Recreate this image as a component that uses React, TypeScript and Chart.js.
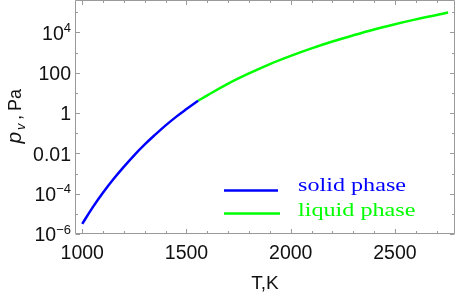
import React, { useEffect, useRef } from "react";
import { Chart, registerables } from "chart.js";

Chart.register(...registerables);

// Temperatures (K) and vapour pressures (Pa)
const solidT = [1000, 1050, 1100, 1150, 1200, 1250, 1300, 1350, 1400, 1450, 1500, 1556];
const solidP = [3.2e-6, 2.1e-5, 1.15e-4, 5.4e-4, 2.2e-3, 8.3e-3, 0.028, 0.085, 0.245, 0.65, 1.58, 4.1];
const liquidT = [1556, 1600, 1700, 1800, 1900, 2000, 2100, 2200, 2300, 2400, 2500, 2600, 2700, 2755];
const liquidP = [4.1, 7.6, 29, 93, 270, 690, 1620, 3550, 7240, 14100, 25700, 44700, 74100, 97700];

const seriesNames = ["solid phase", "liquid phase"];
const seriesColors = ["#0000ff", "#00ff00"];

const xMajorTicks = [1000, 1500, 2000, 2500];
const xMajorLabels = ["1000", "1500", "2000", "2500"];
const xMinorTicks = [1100, 1200, 1300, 1400, 1600, 1700, 1800, 1900, 2100, 2200, 2300, 2400, 2600, 2700];
const yMajorTicks = [1e-6, 1e-4, 0.01, 1, 100, 1e4];
const yMajorBase = ["10", "10", "0.01", "1", "100", "10"];
const yMajorSup = ["\u22126", "\u22124", "", "", "", "4"];
const yMinorTicks = [1e-5, 1e-3, 0.1, 10, 1000, 1e5];
const xTitle = "T,K";
const yTitleVar = "p";
const yTitleSub = "v";
const yTitleUnit = "Pa";

const xMin = 970;
const xMax = 2788;
const yMin = 1e-6;
const yMax = 4.1e5;

const SANS = '"Liberation Sans", Arial, sans-serif';
const SERIF = '"Liberation Serif", "Times New Roman", serif';

const decorPlugin = {
  id: "decor",
  afterDraw(chart: any) {
    const { ctx, chartArea, scales } = chart;
    const { left, right, top, bottom } = chartArea;
    const xs = scales.x;
    const ys = scales.y;
    ctx.save();
    // frame
    ctx.strokeStyle = "#9a9a9a";
    ctx.lineWidth = 1;
    const L = Math.round(left) - 0.5;
    const R = Math.round(right) - 0.5;
    const T = Math.round(top) + 0.5;
    const B = Math.round(bottom) - 0.5;
    ctx.beginPath();
    ctx.moveTo(L, T);
    ctx.lineTo(R, T);
    ctx.lineTo(R, B);
    ctx.lineTo(L, B);
    ctx.closePath();
    ctx.stroke();
    // ticks
    const majorLen = 4.5;
    const minorLen = 2.5;
    ctx.beginPath();
    const xt = (v: number, len: number) => {
      const px = Math.round(xs.getPixelForValue(v)) + 0.5;
      ctx.moveTo(px, B);
      ctx.lineTo(px, B - len);
      ctx.moveTo(px, T);
      ctx.lineTo(px, T + len);
    };
    const yt = (v: number, len: number) => {
      const py = Math.round(ys.getPixelForValue(v)) + 0.5;
      ctx.moveTo(L, py);
      ctx.lineTo(L + len, py);
      ctx.moveTo(R, py);
      ctx.lineTo(R - len, py);
    };
    xMajorTicks.forEach((v) => xt(v, majorLen));
    xMinorTicks.forEach((v) => xt(v, minorLen));
    yMajorTicks.forEach((v) => yt(v, majorLen));
    yMinorTicks.forEach((v) => yt(v, minorLen));
    ctx.stroke();

    // x tick labels
    ctx.fillStyle = "#111";
    ctx.font = `19.5px ${SANS}`;
    ctx.textAlign = "center";
    ctx.textBaseline = "alphabetic";
    xMajorTicks.forEach((v, i) => {
      ctx.fillText(xMajorLabels[i], xs.getPixelForValue(v), 259);
    });
    // y tick labels
    const labelRight = 71;
    yMajorTicks.forEach((v, i) => {
      const py = ys.getPixelForValue(v);
      const base = py + 7.2;
      let xr = labelRight;
      ctx.textAlign = "right";
      if (yMajorSup[i]) {
        ctx.font = `13px ${SANS}`;
        ctx.fillText(yMajorSup[i], xr, base - 7.5);
        xr -= ctx.measureText(yMajorSup[i]).width;
      }
      ctx.font = `19.5px ${SANS}`;
      ctx.fillText(yMajorBase[i], xr, base);
    });

    // x title
    ctx.textAlign = "center";
    ctx.font = `19px ${SANS}`;
    ctx.fillText(xTitle, 265, 289);

    // y title (rotated)
    ctx.save();
    const y0 = 143.5;
    ctx.translate(21, y0);
    ctx.rotate(-Math.PI / 2);
    ctx.textAlign = "left";
    ctx.font = `italic 21px ${SANS}`;
    ctx.fillText(yTitleVar, 0, 0);
    ctx.font = `italic 13px ${SANS}`;
    ctx.fillText(yTitleSub, 13.5, 4);
    ctx.font = `18px ${SANS}`;
    ctx.fillText(",", 23.5, 0);
    ctx.fillText(yTitleUnit, 32.5, 0);
    ctx.restore();

    // legend
    const legendY = [190.5, 213.5];
    const legendX2 = [278, 280];
    const textBase = [191, 216];
    const targetW = 108;
    ctx.font = `18.5px ${SERIF}`;
    const sx = targetW / ctx.measureText(seriesNames[0]).width;
    seriesNames.forEach((name, i) => {
      ctx.strokeStyle = seriesColors[i];
      ctx.lineWidth = 2.6;
      ctx.beginPath();
      ctx.moveTo(224, legendY[i]);
      ctx.lineTo(legendX2[i], legendY[i]);
      ctx.stroke();
      ctx.save();
      ctx.translate(298, textBase[i]);
      ctx.scale(sx, 1);
      ctx.fillStyle = seriesColors[i];
      ctx.textAlign = "left";
      ctx.fillText(name, 0, 0);
      ctx.restore();
    });
    ctx.restore();
  },
};

export default function App() {
  const ref = useRef<HTMLCanvasElement | null>(null);
  useEffect(() => {
    if (!ref.current) return;
    const chart = new Chart(ref.current, {
      type: "line",
      data: {
        datasets: [
          {
            label: seriesNames[0],
            data: solidT.map((t, i) => ({ x: t, y: solidP[i] })),
            borderColor: seriesColors[0],
            borderWidth: 2.5,
            pointRadius: 0,
            tension: 0.4,
            fill: false,
          },
          {
            label: seriesNames[1],
            data: liquidT.map((t, i) => ({ x: t, y: liquidP[i] })),
            borderColor: seriesColors[1],
            borderWidth: 2.5,
            pointRadius: 0,
            tension: 0.4,
            fill: false,
          },
        ],
      },
      options: {
        animation: false,
        responsive: false,
        maintainAspectRatio: false,
        devicePixelRatio: 1,
        layout: { padding: { left: 76, right: 2, top: 0, bottom: 59 } },
        plugins: { legend: { display: false }, tooltip: { enabled: false }, title: { display: false } },
        scales: {
          x: { type: "linear", min: xMin, max: xMax, display: false },
          y: { type: "logarithmic", min: yMin, max: yMax, display: false },
        },
      },
      plugins: [decorPlugin],
    });
    return () => chart.destroy();
  }, []);
  return (
    <div style={{ position: "absolute", left: 0, top: 0, width: 457, height: 293, background: "#fff" }}>
      <canvas ref={ref} width={457} height={293} style={{ display: "block" }} />
    </div>
  );
}
